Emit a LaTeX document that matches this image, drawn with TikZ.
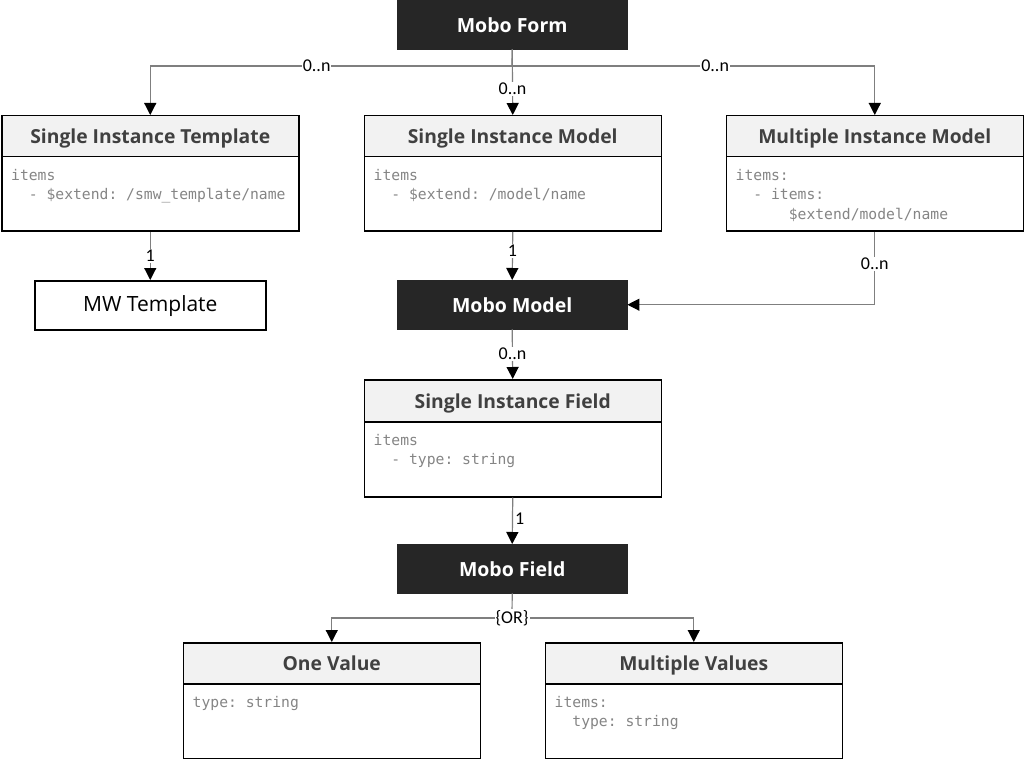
\documentclass[tikz,border=0pt]{standalone}
\usepackage{fontspec}
\setmainfont{Open Sans}
\newfontfamily\lblfont{Carlito}
\setmonofont{DejaVu Sans Mono}
\usetikzlibrary{arrows.meta}
\definecolor{darkbox}{HTML}{262626}
\definecolor{hdrfill}{HTML}{F2F2F2}
\definecolor{hdrtext}{HTML}{404040}
\definecolor{codegray}{HTML}{858585}
\definecolor{linegray}{HTML}{7F7F7F}
\tikzset{
  darknode/.style={draw=darkbox, fill=darkbox, text=white, font=\bfseries\fontsize{19.5}{22}\selectfont, minimum width=230pt, minimum height=49pt, inner sep=0pt, text height=15.5pt, text depth=0pt, anchor=north west},
  hdr/.style={draw=black, line width=1.5pt, fill=hdrfill, text=hdrtext, font=\bfseries\fontsize{19.3}{22}\selectfont, minimum width=297pt, minimum height=41pt, inner sep=0pt, text height=14.5pt, text depth=0pt, anchor=north west},
  bodybox/.style={draw=black, line width=1.5pt, fill=white, minimum width=297pt, minimum height=75pt, inner sep=0pt, anchor=north west},
  plainbox/.style={draw=black, line width=1.5pt, fill=white, text=black, font=\fontsize{21}{24}\selectfont, minimum width=231pt, minimum height=49pt, inner sep=0pt, text height=13.4pt, text depth=0pt, anchor=north west},
  code/.style={text=codegray, font=\ttfamily\fontsize{14.7}{19.5}\selectfont, align=left, anchor=north west, inner sep=0pt},
  conn/.style={draw=linegray, line width=1.2pt, -{Triangle[length=12pt,width=12pt,color=black]}},
  plainline/.style={draw=linegray, line width=1.2pt},
  lbl/.style={font=\lblfont\fontsize{18}{20}\selectfont, text=black, fill=white, inner sep=1pt},
  sidelbl/.style={font=\lblfont\fontsize{18}{20}\selectfont, text=black, inner sep=2pt},
}
\begin{document}
\begin{tikzpicture}[x=1pt,y=-1pt]
\useasboundingbox (0,0) rectangle (1024,759);
\fill[white] (0,0) rectangle (1024,759);

% dark nodes
\node[darknode] (form) at (397,0) {Mobo Form};
\node[darknode] (model) at (397,280) {Mobo Model};
\node[darknode] (field) at (397,544) {Mobo Field};

% Single Instance Template
\node[bodybox] (sitb) at (1,155.5) {};
\node[hdr] (sit) at (1,115) {Single Instance Template};
\node[code] (sitc) at (11,169) {items\\\phantom{xx}- \$extend: /smw\_template/name};

% Single Instance Model
\node[bodybox] (simb) at (363.5,155.5) {};
\node[hdr] (sim) at (363.5,115) {Single Instance Model};
\node[code] (simc) at (373.5,169) {items\\\phantom{xx}- \$extend: /model/name};

% Multiple Instance Model
\node[bodybox] (mimb) at (725.5,155.5) {};
\node[hdr] (mim) at (725.5,115) {Multiple Instance Model};
\node[code] (mimc) at (735.5,169) {items:\\\phantom{xx}- items:\\\phantom{xxxxxx}\$extend/model/name};

% MW Template
\node[plainbox] (mwt) at (34,280) {MW Template};

% Single Instance Field
\node[bodybox] (sifb) at (363.5,421) {};
\node[hdr, minimum height=42pt] (sif) at (363.5,379) {Single Instance Field};
\node[code] (sifc) at (373.5,434) {items\\\phantom{xx}- type: string};

% One Value
\node[bodybox] (ovb) at (182.5,683) {};
\node[hdr] (ov) at (182.5,642) {One Value};
\node[code] (ovc) at (192.5,696) {type: string};

% Multiple Values
\node[bodybox] (mvb) at (544.5,683) {};
\node[hdr] (mv) at (544.5,642) {Multiple Values};
\node[code] (mvc) at (554.5,696) {items:\\\phantom{xx}type: string};

% connectors from Mobo Form
\coordinate (fsplit) at (512,66);
\draw[plainline] (form.south) -- (fsplit);
\draw[conn] (fsplit) -| node[lbl, pos=0.27] {0..n} (sit.north);
\draw[conn] (fsplit) -| node[lbl, pos=0.28] {0..n} (mim.north);
\draw[conn] (form.south) -- node[lbl, pos=0.6] {0..n} (sim.north);

% to MW Template / Mobo Model
\draw[conn] (sitb.south) -- node[lbl] {1} (mwt.north -| sitb.south);
\draw[conn] (simb.south) -- node[lbl, pos=0.4] {1} (model.north);
\draw[conn] (mimb.south) |- node[lbl, pos=0.22] {0..n} (model.east);

% Mobo Model to Single Instance Field
\draw[conn] (model.south) -- node[lbl] {0..n} (sif.north);
% SIF to Mobo Field
\draw[conn] (sifb.south) -- node[sidelbl, right, pos=0.45] {1} (field.north);

% Mobo Field to values
\coordinate (orpt) at (512,618);
\draw[plainline] (field.south) -- (orpt);
\draw[conn] (orpt) -| (ov.north);
\draw[conn] (orpt) -| (mv.north);
\node[lbl] (orlbl) at (orpt) {\{OR\}};
\end{tikzpicture}
\end{document}
